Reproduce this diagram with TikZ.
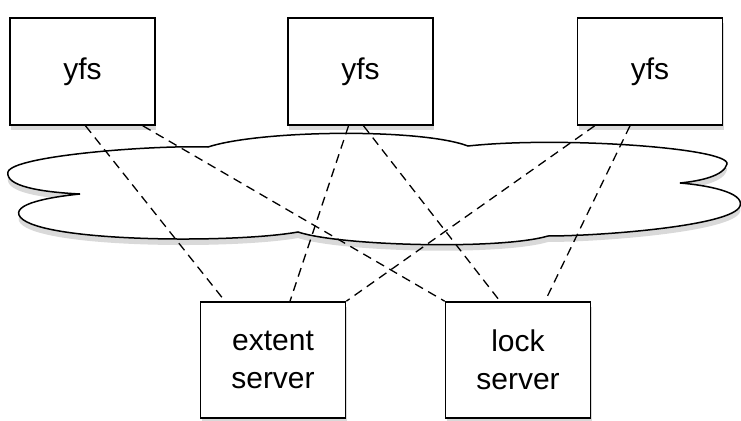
\documentclass[tikz,border=0pt]{standalone}
\usepackage{fontspec}
\setmainfont{Liberation Sans}
\usetikzlibrary{shadows}
\begin{document}
\begin{tikzpicture}[x=1pt, y=-1pt,
        box/.style={draw, line width=1.6pt, fill=white, minimum width=145pt, align=center,
            font=\fontsize{30}{38}\selectfont,
            drop shadow={shadow xshift=1pt, shadow yshift=-5pt, opacity=0.3}},
        link/.style={dashed, dash pattern=on 9pt off 6pt, line width=1.3pt}
    ]
    \useasboundingbox (0,0) rectangle (741,420);
    % Cloud
    \draw[line width=1.5pt, fill=white,
          drop shadow={shadow xshift=0pt, shadow yshift=-6pt, opacity=0.3}]
        (208,147) .. controls (260,130) and (420,128) .. (468,146)
        .. controls (560,136) and (730,148) .. (727,164)
        .. controls (724,176) and (700,181) .. (680,183)
        .. controls (705,185) and (745,192) .. (740,206)
        .. controls (733,226) and (600,236) .. (548,236)
        .. controls (500,250) and (340,246) .. (298,232)
        .. controls (230,244) and (30,242) .. (19,215)
        .. controls (14,202) and (60,196) .. (80,194)
        .. controls (40,192) and (5,186) .. (8,172)
        .. controls (12,156) and (150,145) .. (208,147) -- cycle;
    % Nodes
    \node[box, minimum height=107pt] (yfsA) at (82.5,71.5) {yfs};
    \node[box, minimum height=107pt] (yfsB) at (360.5,71.5) {yfs};
    \node[box, minimum height=107pt] (yfsC) at (650,71.5) {yfs};
    \node[box, minimum height=116pt] (extent) at (273,360) {extent\\server};
    \node[box, minimum height=116pt] (lock) at (518,360) {lock\\server};
    % Edges
    \draw[link] ([xshift=3pt]yfsA.south) -- ([xshift=-48pt]extent.north);
    \draw[link] ([xshift=-13pt]yfsA.south east) -- (lock.north west);
    \draw[link] ([xshift=-12pt]yfsB.south) -- ([xshift=17pt]extent.north);
    \draw[link] ([xshift=3pt]yfsB.south) -- ([xshift=-18pt]lock.north);
    \draw[link] ([xshift=18pt]yfsC.south west) -- (extent.north east);
    \draw[link] ([xshift=-20pt]yfsC.south) -- ([xshift=27pt]lock.north);
\end{tikzpicture}
\end{document}
